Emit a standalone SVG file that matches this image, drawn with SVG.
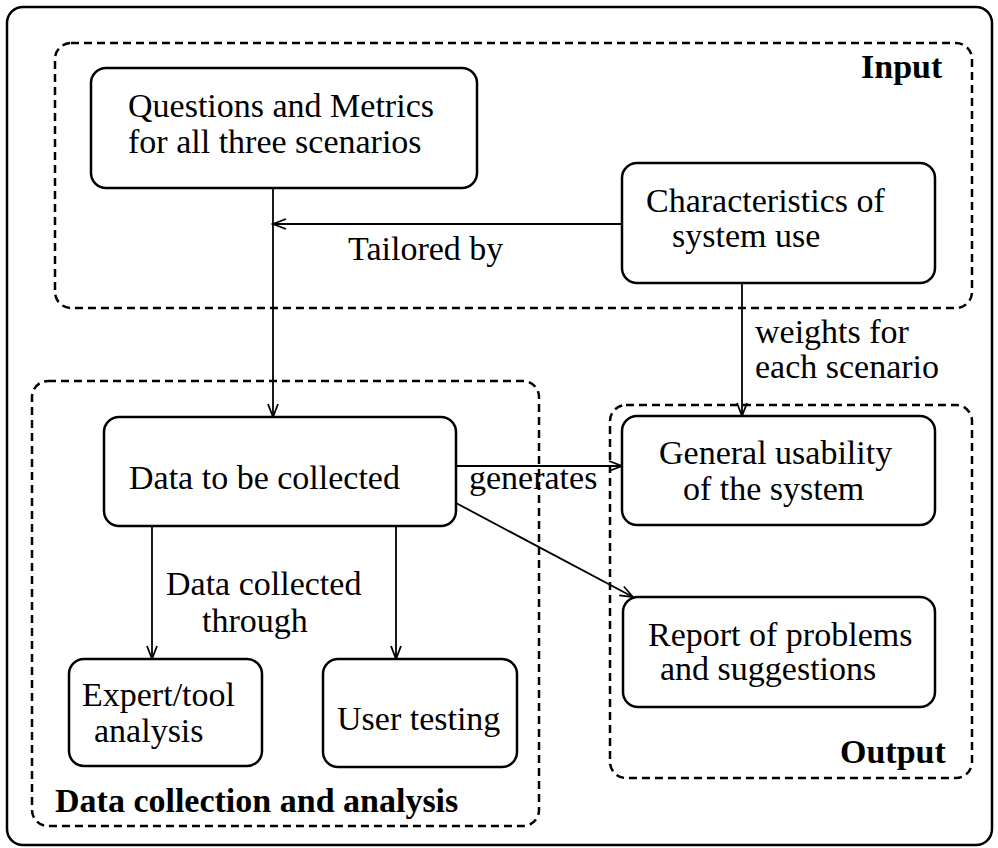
<svg xmlns="http://www.w3.org/2000/svg" width="998" height="848" viewBox="0 0 998 848">
<style>
text{font-family:"Liberation Serif","Times New Roman",serif;font-size:34px;fill:#000}
.b{font-weight:bold}
.box{fill:#fff;stroke:#000;stroke-width:2.5}
.grp{fill:none;stroke:#000;stroke-width:2.5;stroke-dasharray:8 5}
.c{fill:none;stroke:#000;stroke-width:1.8}
</style>
<defs>
<marker id="arr" markerUnits="userSpaceOnUse" markerWidth="16" markerHeight="12" refX="14" refY="6" orient="auto">
<path d="M1,1 L14,6 L1,11" fill="none" stroke="#000" stroke-width="1.8"/>
</marker>
</defs>
<rect x="7" y="7" width="985" height="838" rx="16" fill="#fff" stroke="#000" stroke-width="2.5"/>
<g id="input-group">
<rect class="grp" x="55" y="43" width="917" height="265" rx="16"/>
<text class="b" x="861" y="78">Input</text>
</g>
<g id="data-group">
<rect class="grp" x="32" y="381" width="507" height="445" rx="16"/>
<text class="b" x="55" y="812">Data collection and analysis</text>
</g>
<g id="output-group">
<rect class="grp" x="610" y="405" width="362" height="373" rx="16"/>
<text class="b" x="840" y="763">Output</text>
</g>
<g id="connectors">
<path class="c" d="M273,188 V417" marker-end="url(#arr)"/>
<path class="c" d="M621,224 H273" marker-end="url(#arr)"/>
<path class="c" d="M742,283 V416" marker-end="url(#arr)"/>
<path class="c" d="M456,466 H622" marker-end="url(#arr)"/>
<path class="c" d="M456,503 L633,597" marker-end="url(#arr)"/>
<path class="c" d="M152,526 V659" marker-end="url(#arr)"/>
<path class="c" d="M396,526 V659" marker-end="url(#arr)"/>
<text x="348" y="260">Tailored by</text>
<text x="755" y="343">weights for</text>
<text x="755" y="378">each scenario</text>
<text x="469" y="489">generates</text>
<text x="166" y="595">Data collected</text>
<text x="202" y="632">through</text>
</g>
<g id="questions">
<rect class="box" x="91" y="68" width="386" height="120" rx="15"/>
<text x="128" y="117">Questions and Metrics</text>
<text x="128" y="153">for all three scenarios</text>
</g>
<g id="characteristics">
<rect class="box" x="622" y="163" width="313" height="120" rx="15"/>
<text x="646" y="212">Characteristics of</text>
<text x="672" y="247">system use</text>
</g>
<g id="data-to-collect">
<rect class="box" x="104" y="417" width="352" height="109" rx="15"/>
<text x="129" y="489">Data to be collected</text>
</g>
<g id="expert">
<rect class="box" x="69" y="659" width="193" height="107" rx="15"/>
<text x="82" y="706">Expert/tool</text>
<text x="94" y="742">analysis</text>
</g>
<g id="user-testing">
<rect class="box" x="323" y="659" width="194" height="108" rx="15"/>
<text x="337" y="730">User testing</text>
</g>
<g id="general-usability">
<rect class="box" x="622" y="416" width="313" height="109" rx="15"/>
<text x="659" y="464">General usability</text>
<text x="683" y="500">of the system</text>
</g>
<g id="report">
<rect class="box" x="623" y="597" width="312" height="110" rx="15"/>
<text x="648" y="646">Report of problems</text>
<text x="660" y="680">and suggestions</text>
</g>
</svg>
